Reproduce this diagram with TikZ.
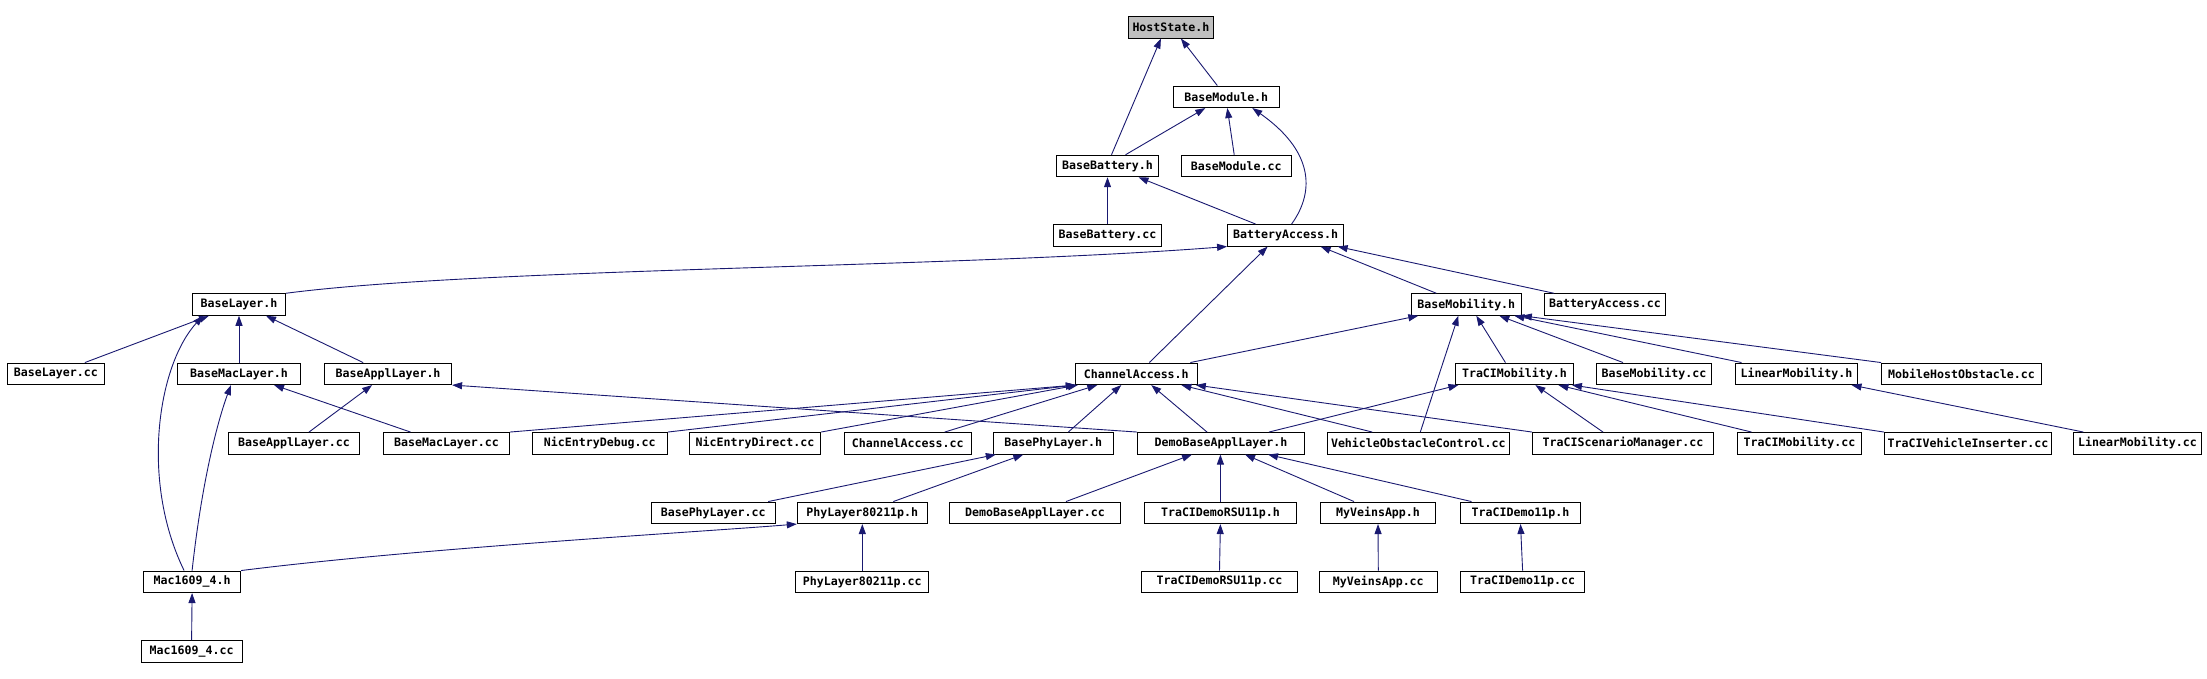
\documentclass[tikz,border=0pt]{standalone}
\usepackage{fontspec}
\usepackage{xcolor}
\usepackage{tikz}
\usetikzlibrary{arrows.meta}
\newfontfamily\dxmono{DejaVu Sans Mono}
\definecolor{azulnoche}{HTML}{191970}
\definecolor{grisnodo}{HTML}{BFBFBF}

\begin{document}
\begin{tikzpicture}[x=1pt, y=-1pt, font=\dxmono\bfseries\fontsize{11.6}{13}\selectfont,
  nodo/.style={draw, line width=1pt, fill=white, minimum height=21.5pt, inner sep=0pt},
  fl/.style={-{Triangle[length=10pt,width=7pt]}, line width=0.9pt, color=azulnoche}]
  \useasboundingbox (0,0) rectangle (2207,679);
  % filas 1 a 5
  \node[nodo, fill=grisnodo, minimum width=85pt] (hst)   at (1170.9,27.3)  {HostState.h};
  \node[nodo, minimum width=106pt] (bmodh)  at (1226.3,96.8)  {BaseModule.h};
  \node[nodo, minimum width=102pt] (bbath)  at (1107.5,166)   {BaseBattery.h};
  \node[nodo, minimum width=110pt] (bmodcc) at (1236.2,166)   {BaseModule.cc};
  \node[nodo, minimum width=108pt] (bbatcc) at (1107.5,235.3) {BaseBattery.cc};
  \node[nodo, minimum width=116pt] (bacch)  at (1285.6,235.3) {BatteryAccess.h};
  \node[nodo, minimum width=93pt]  (blayh)  at (239,304.5)    {BaseLayer.h};
  \node[nodo, minimum width=110pt] (bmobh)  at (1466.3,304.5) {BaseMobility.h};
  \node[nodo, minimum width=121pt] (bacccc) at (1604.9,304.5) {BatteryAccess.cc};
  % fila 6
  \node[nodo, minimum width=97pt]  (blaycc) at (55.9,373.8)   {BaseLayer.cc};
  \node[nodo, minimum width=123pt] (bmach)  at (239,373.8)    {BaseMacLayer.h};
  \node[nodo, minimum width=127pt] (bapph)  at (388.1,373.8)  {BaseApplLayer.h};
  \node[nodo, minimum width=122pt] (chah)   at (1136.3,373.8) {ChannelAccess.h};
  \node[nodo, minimum width=118pt] (tmobh)  at (1514.4,373.8) {TraCIMobility.h};
  \node[nodo, minimum width=115pt] (bmobcc) at (1654,373.8)   {BaseMobility.cc};
  \node[nodo, minimum width=122pt] (linh)   at (1796.5,373.8) {LinearMobility.h};
  \node[nodo, minimum width=160pt] (mho)    at (1961.5,373.8) {MobileHostObstacle.cc};
  % fila 7
  \node[nodo, minimum width=131pt] (bappcc) at (294,443.3)    {BaseApplLayer.cc};
  \node[nodo, minimum width=126pt] (bmaccc) at (446.5,443.3)  {BaseMacLayer.cc};
  \node[nodo, minimum width=135pt] (nicdbg) at (599.8,443.3)  {NicEntryDebug.cc};
  \node[nodo, minimum width=131pt] (nicdir) at (755,443.3)    {NicEntryDirect.cc};
  \node[nodo, minimum width=127pt] (chacc)  at (907.7,443.3)  {ChannelAccess.cc};
  \node[nodo, minimum width=120pt] (bphyh)  at (1053.3,443.3) {BasePhyLayer.h};
  \node[nodo, minimum width=167pt] (dbah)   at (1221,443.3)   {DemoBaseApplLayer.h};
  \node[nodo, minimum width=182pt] (voc)    at (1418.3,443.3) {VehicleObstacleControl.cc};
  \node[nodo, minimum width=181pt] (tsm)    at (1623,443.3)   {TraCIScenarioManager.cc};
  \node[nodo, minimum width=124pt] (tmobcc) at (1799.5,443.3) {TraCIMobility.cc};
  \node[nodo, minimum width=167pt] (tvi)    at (1968,443.3)   {TraCIVehicleInserter.cc};
  \node[nodo, minimum width=128pt] (lincc)  at (2137.4,443.3) {LinearMobility.cc};
  % filas 8 a 10
  \node[nodo, minimum width=124pt] (bphycc) at (713.2,512.8)  {BasePhyLayer.cc};
  \node[nodo, minimum width=130pt] (phyh)   at (862.3,512.8)  {PhyLayer80211p.h};
  \node[nodo, minimum width=171pt] (dbacc)  at (1035,512.8)   {DemoBaseApplLayer.cc};
  \node[nodo, minimum width=152pt] (rsuh)   at (1220.4,512.8) {TraCIDemoRSU11p.h};
  \node[nodo, minimum width=115pt] (myh)    at (1378,512.8)   {MyVeinsApp.h};
  \node[nodo, minimum width=120pt] (t11h)   at (1520.5,512.8) {TraCIDemo11p.h};
  \node[nodo, minimum width=97pt]  (mach)   at (192.1,581.8)  {Mac1609\_4.h};
  \node[nodo, minimum width=133pt] (phycc)  at (862.3,581.8)  {PhyLayer80211p.cc};
  \node[nodo, minimum width=156pt] (rsucc)  at (1219.5,581.8) {TraCIDemoRSU11p.cc};
  \node[nodo, minimum width=118pt] (mycc)   at (1378.3,581.8) {MyVeinsApp.cc};
  \node[nodo, minimum width=124pt] (t11cc)  at (1522.6,581.8) {TraCIDemo11p.cc};
  \node[nodo, minimum width=101pt] (maccc)  at (191.6,651.3)  {Mac1609\_4.cc};
  % dependencias
  \draw[fl] ([xshift=4]bbath.north) -- ([xshift=-10]hst.south);
  \draw[fl] ([xshift=-9]bmodh.north) -- ([xshift=10]hst.south);
  \draw[fl] ([xshift=18]bbath.north) -- ([xshift=-21]bmodh.south);
  \draw[fl] ([xshift=-2]bmodcc.north) -- ([xshift=1]bmodh.south);
  \draw[fl] ([xshift=6]bacch.north) .. controls (1316,190) and (1312,150) .. ([xshift=26]bmodh.south);
  \draw[fl] (bbatcc.north) -- (bbath.south);
  \draw[fl] ([xshift=-30]bacch.north) -- ([xshift=31]bbath.south);
  \draw[fl] (blayh.north east) .. controls (480,268) and (950,268) .. (bacch.south west);
  \draw[fl] ([xshift=13]chah.north) -- ([xshift=-18]bacch.south);
  \draw[fl] ([xshift=-30]bmobh.north) -- ([xshift=35]bacch.south);
  \draw[fl] ([xshift=-51]bacccc.north) -- ([xshift=52]bacch.south);
  \draw[fl] ([xshift=29]blaycc.north) -- ([xshift=-30]blayh.south);
  \draw[fl] ([xshift=-8]mach.north) .. controls (140,480) and (158,365) .. ([xshift=-36]blayh.south);
  \draw[fl] (bmach.north) -- (blayh.south);
  \draw[fl] ([xshift=-25]bapph.north) -- ([xshift=27]blayh.south);
  \draw[fl] ([xshift=54]chah.north) -- ([xshift=-48]bmobh.south);
  \draw[fl] ([xshift=2]voc.north) -- ([xshift=-8]bmobh.south);
  \draw[fl] ([xshift=-9]tmobh.north) -- ([xshift=10]bmobh.south);
  \draw[fl] ([xshift=-31]bmobcc.north) -- ([xshift=33]bmobh.south);
  \draw[fl] ([xshift=-55]linh.north) -- ([xshift=48]bmobh.south);
  \draw[fl] (mho.north west) -- (bmobh.south east);
  \draw[fl] ([xshift=48]dbah.north) -- ([xshift=-56]tmobh.south);
  \draw[fl] ([xshift=-20]tsm.north) -- ([xshift=21]tmobh.south);
  \draw[fl] ([xshift=-48]tmobcc.north) -- ([xshift=44]tmobh.south);
  \draw[fl] (tvi.north west) -- ([xshift=-2]tmobh.south east);
  \draw[fl] ([xshift=-54]lincc.north) -- ([xshift=55]linh.south);
  \draw[fl] (bmaccc.north east) -- ([xshift=1]chah.south west);
  \draw[fl] (nicdbg.north east) -- ([xshift=1]chah.south west);
  \draw[fl] (nicdir.north east) -- ([xshift=3]chah.south west);
  \draw[fl] ([xshift=37]chacc.north) -- ([xshift=-39]chah.south);
  \draw[fl] ([xshift=15]bphyh.north) -- ([xshift=-15]chah.south);
  \draw[fl] ([xshift=-14]dbah.north) -- ([xshift=15]chah.south);
  \draw[fl] ([xshift=-46]voc.north) -- ([xshift=45]chah.south);
  \draw[fl] (tsm.north west) -- ([xshift=-2]chah.south east);
  \draw[fl] (dbah.north west) -- (bapph.south east);
  \draw[fl] ([xshift=15]bappcc.north) -- ([xshift=-16]bapph.south);
  \draw[fl] ([xshift=-36]bmaccc.north) -- ([xshift=35]bmach.south);
  \draw[fl] (mach.north) .. controls (202,480) and (218,420) .. ([xshift=-8]bmach.south);
  \draw[fl] (mach.north east) .. controls (420,548) and (700,532) .. (phyh.south west);
  \draw[fl] ([xshift=55]bphycc.north) -- ([xshift=3]bphyh.south west);
  \draw[fl] ([xshift=31]phyh.north) -- ([xshift=-30]bphyh.south);
  \draw[fl] ([xshift=31]dbacc.north) -- ([xshift=-29]dbah.south);
  \draw[fl] (rsuh.north) -- (rsuh.north |- dbah.south);
  \draw[fl] ([xshift=-24]myh.north) -- ([xshift=24]dbah.south);
  \draw[fl] ([xshift=-49]t11h.north) -- ([xshift=47]dbah.south);
  \draw[fl] (phycc.north) -- (phyh.south);
  \draw[fl] (rsucc.north) -- (rsuh.south);
  \draw[fl] (mycc.north) -- (myh.south);
  \draw[fl] (t11cc.north) -- (t11h.south);
  \draw[fl] (maccc.north) -- (mach.south);
\end{tikzpicture}
\end{document}
